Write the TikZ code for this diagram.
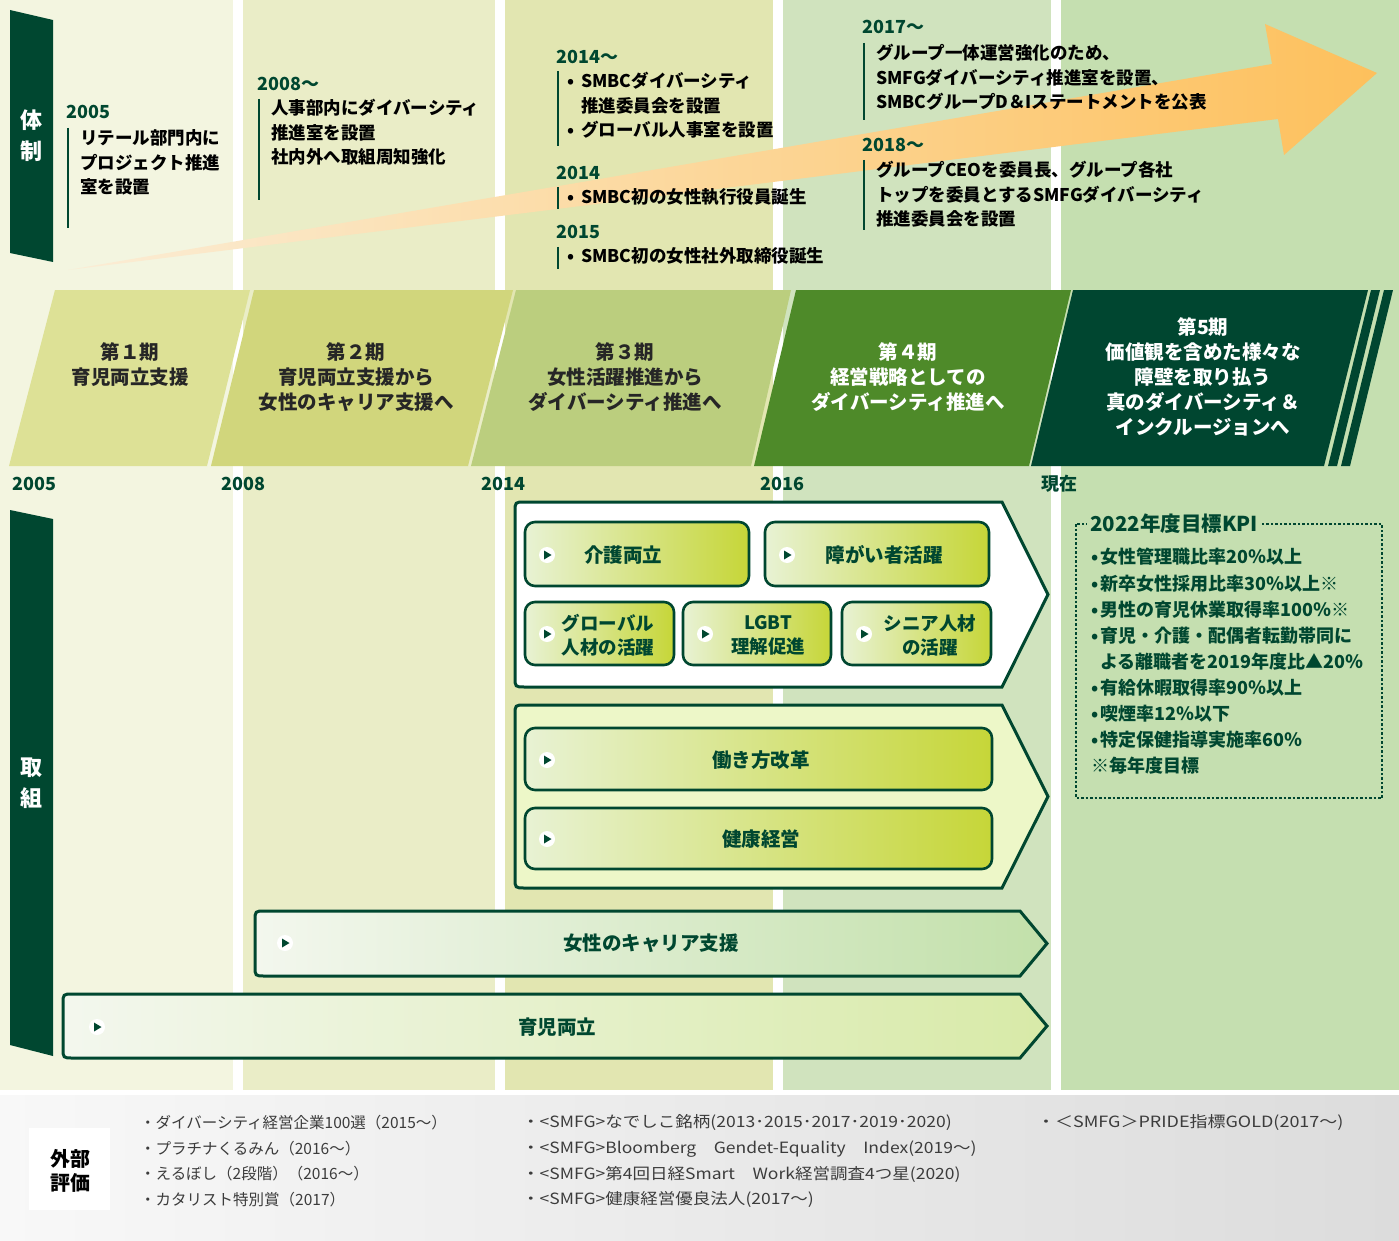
\documentclass[tikz,border=0pt]{standalone}
\usepackage{fontspec}
\setmainfont{Noto Sans CJK JP}
\definecolor{dkg}{RGB}{0,71,48}
\definecolor{colA}{RGB}{243,245,224}
\definecolor{colB}{RGB}{234,237,199}
\definecolor{colC}{RGB}{226,230,177}
\definecolor{colD}{RGB}{208,227,190}
\definecolor{colE}{RGB}{197,223,176}
\definecolor{phA}{RGB}{221,225,150}
\definecolor{phB}{RGB}{209,214,124}
\definecolor{phC}{RGB}{187,206,126}
\definecolor{phD}{RGB}{78,138,41}
\definecolor{phE}{RGB}{0,70,48}
\definecolor{arL}{RGB}{251,237,214}
\definecolor{arR}{RGB}{253,192,92}
\definecolor{ibL}{RGB}{232,242,212}
\definecolor{ibR}{RGB}{198,214,56}
\definecolor{brL}{RGB}{243,247,238}
\definecolor{brR}{RGB}{194,224,170}
\definecolor{brRb}{RGB}{216,234,168}
\definecolor{bxB}{RGB}{237,247,200}
\definecolor{phtxt}{RGB}{38,38,38}
\definecolor{extxt}{RGB}{60,60,60}
\definecolor{gyL}{RGB}{248,248,248}
\definecolor{gyR}{RGB}{220,220,220}
\newcommand\fsz[2]{\fontsize{#1}{#2}\selectfont}
\newcommand\bu{\makebox[14pt][l]{•}}
\newcommand\kb{\makebox[9pt][l]{•}}
\newcommand\wide[1]{\scalebox{1.13}[1]{\begin{tabular}{@{}l@{}}#1\end{tabular}}}
\begin{document}
\begin{tikzpicture}[x=1pt,y=-1pt,
  yr/.style={font=\bfseries\fsz{18}{20}, text=dkg, inner sep=0, anchor=west},
  desc/.style={font=\bfseries\fsz{17.5}{24.5}, text=black, inner sep=0, anchor=west, align=left},
  phase/.style={font=\bfseries\fsz{19.5}{25}, text=phtxt, inner sep=0, align=center},
  side/.style={font=\bfseries\fsz{22}{31}, text=white, inner sep=0, align=center},
  lbl/.style={font=\bfseries\fsz{19.5}{24}, text=dkg, inner sep=0, align=center},
  lbls/.style={font=\bfseries\fsz{18.5}{24}, text=dkg, inner sep=0, align=center},
  kpi/.style={font=\bfseries\fsz{18}{26.1}, text=dkg, inner sep=0, anchor=west, align=left},
  ext/.style={font=\fsz{15.5}{25.7}, text=extxt, inner sep=0, anchor=west, align=left},
  vline/.style={draw=dkg, line width=2pt},
  bigbox/.style={draw=dkg, line width=3pt},
  ibox/.style={draw=dkg, line width=2.6pt, rounded corners=10pt, left color=ibL, right color=ibR},
  play/.pic={\fill[white] (0,0) circle (8pt); \fill[dkg] (-3,-4.5) -- (4.5,0) -- (-3,4.5) -- cycle;}
]
\useasboundingbox (0,0) rectangle (1399,1241);
\fill[white] (0,0) rectangle (1399,1241);
% columns
\fill[colA] (0,0) rectangle (233,1090);
\fill[colB] (243,0) rectangle (495,1090);
\fill[colC] (505,0) rectangle (773,1090);
\fill[colD] (783,0) rectangle (1051,1090);
\fill[colE] (1061,0) rectangle (1399,1090);
% bottom band
\shade[left color=gyL, right color=gyR] (0,1095) rectangle (1399,1241);
% side labels
\fill[dkg] (10,10) -- (53,20) -- (53,262) -- (10,253) -- cycle;
\node[side] (taisei) at (31,136) {体\\制};
\fill[dkg] (10,510) -- (53,519) -- (53,1056) -- (10,1045) -- cycle;
\node[side] (torikumi) at (31,783) {取\\組};
% arrow
\shade[left color=arL, right color=arR] (68,270) -- (1272,64) -- (1265,24) -- (1377,73) -- (1284,155) -- (1278,119) -- cycle;
% taisei texts
\node[yr] (y2005) at (66,112) {2005};
\draw[vline] (68,128) -- (68,228);
\node[desc] (d2005) at (80,162.5) {リテール部門内に\\プロジェクト推進\\室を設置};
\node[yr] (y2008) at (257,84) {2008～};
\draw[vline] (259,99) -- (259,200);
\node[desc] (d2008) at (271,132.5) {人事部内にダイバーシティ\\推進室を設置\\社内外へ取組周知強化};
\node[yr] (y2014a) at (556,57) {2014～};
\draw[vline] (558,71) -- (558,146);
\node[desc] (d2014a) at (567,105.5) {\bu SMBCダイバーシティ\\\hspace*{14pt}推進委員会を設置\\\bu グローバル人事室を設置};
\node[yr] (y2014b) at (556,173) {2014};
\draw[vline] (558,187) -- (558,209);
\node[desc] (d2014b) at (567,197) {\bu SMBC初の女性執行役員誕生};
\node[yr] (y2015) at (556,232) {2015};
\draw[vline] (558,247) -- (558,269);
\node[desc] (d2015) at (567,256) {\bu SMBC初の女性社外取締役誕生};
\node[yr] (y2017) at (862,27) {2017～};
\draw[vline] (864,43) -- (864,120);
\node[desc] (d2017) at (876,77.5) {グループ一体運営強化のため、\\SMFGダイバーシティ推進室を設置、\\SMBCグループD＆Iステートメントを公表};
\node[yr] (y2018) at (862,145) {2018～};
\draw[vline] (864,160) -- (864,230);
\node[desc] (d2018) at (876,194.5) {グループCEOを委員長、グループ各社\\トップを委員とするSMFGダイバーシティ\\推進委員会を設置};
% phases
\fill[phA] (55,290) -- (250,290) -- (207,466) -- (9,466) -- cycle;
\fill[phB] (254,290) -- (513,290) -- (468,466) -- (211,466) -- cycle;
\fill[phC] (516,290) -- (791,290) -- (751,466) -- (471,466) -- cycle;
\fill[phD] (796,290) -- (1071,290) -- (1029,466) -- (754,466) -- cycle;
\fill[phE] (1073,290) -- (1368,290) -- (1324,466) -- (1031,466) -- cycle;
\fill[phE] (1371,290) -- (1380,290) -- (1337,466) -- (1328,466) -- cycle;
\fill[phE] (1384,290) -- (1393,290) -- (1350,466) -- (1341,466) -- cycle;
\node[phase] (ph1) at (130,365) {第１期\\育児両立支援};
\node[phase] (ph2) at (356,377) {第２期\\育児両立支援から\\女性のキャリア支援へ};
\node[phase] (ph3) at (625,377) {第３期\\女性活躍推進から\\ダイバーシティ推進へ};
\node[phase, text=white] (ph4) at (908,377) {第４期\\経営戦略としての\\ダイバーシティ推進へ};
\node[phase, text=white] (ph5) at (1203,377) {第5期\\価値観を含めた様々な\\障壁を取り払う\\真のダイバーシティ＆\\インクルージョンへ};
% year axis
\node[yr] (a2005) at (12,484) {2005};
\node[yr] (a2008) at (221,484) {2008};
\node[yr] (a2014) at (481,484) {2014};
\node[yr] (a2016) at (760,484) {2016};
\node[yr] (anow) at (1041,484) {現在};
% big box 1
\draw[bigbox, fill=white] (1002,502) -- (1048,594.5) -- (1002,687) -- (525,687) .. controls (515,687) .. (515,677) -- (515,512) .. controls (515,502) .. (525,502) -- cycle;
\draw[ibox] (525,522) rectangle (749,586);
\draw[ibox] (765,522) rectangle (989,586);
\draw[ibox] (525,602) rectangle (674,665);
\draw[ibox] (683,602) rectangle (831,665);
\draw[ibox] (842,602) rectangle (991,665);
\pic at (547,555) {play};
\pic at (787,555) {play};
\pic at (547,634) {play};
\pic at (705,634) {play};
\pic at (864,634) {play};
\node[lbl] (kaigo) at (623,555) {介護両立};
\node[lbl] (shogai) at (884,555) {障がい者活躍};
\node[lbls] (global) at (608,635) {グローバル\\人材の活躍};
\node[lbls] (lgbt) at (768,635) {LGBT\\理解促進};
\node[lbls] (senior) at (930,635) {シニア人材\\の活躍};
% big box 2
\draw[bigbox, fill=bxB] (1002,705) -- (1048,796.5) -- (1002,888) -- (525,888) .. controls (515,888) .. (515,878) -- (515,715) .. controls (515,705) .. (525,705) -- cycle;
\draw[ibox] (525,728) rectangle (992,790);
\draw[ibox] (525,808) rectangle (992,869);
\pic at (547,760) {play};
\pic at (547,839) {play};
\node[lbl] (hataraki) at (761,760) {働き方改革};
\node[lbl] (kenko) at (761,839) {健康経営};
% bars
\draw[bigbox, left color=brL, right color=brR] (1020,911) -- (1047,943.5) -- (1020,976) -- (265,976) .. controls (255,976) .. (255,966) -- (255,921) .. controls (255,911) .. (265,911) -- cycle;
\pic at (285,943) {play};
\node[lbl] (career) at (651,943) {女性のキャリア支援};
\draw[bigbox, left color=brL, right color=brRb] (1020,994) -- (1047,1026) -- (1020,1058) -- (73,1058) .. controls (63,1058) .. (63,1048) -- (63,1004) .. controls (63,994) .. (73,994) -- cycle;
\pic at (97,1027) {play};
\node[lbl] (ikuji) at (557,1027) {育児両立};
% KPI box
\draw[dkg, line width=2.5pt, dash pattern=on 2.5pt off 2pt] (1076,524) rectangle (1382,798);
\node[font=\bfseries\fsz{20.5}{24}, text=dkg, fill=colE, inner xsep=3pt, inner ysep=2pt, anchor=west] (kpititle) at (1087,524) {2022年度目標KPI};
\node[kpi] (kpilist) at (1091,661.5) {\kb 女性管理職比率20％以上\\\kb 新卒女性採用比率30％以上※\\\kb 男性の育児休業取得率100％※\\\kb 育児・介護・配偶者転勤帯同に\\\hspace*{9pt}よる離職者を2019年度比▲20％\\\kb 有給休暇取得率90％以上\\\kb 喫煙率12％以下\\\kb 特定保健指導実施率60％\\※毎年度目標};
% external evaluation
\fill[white] (29,1128) rectangle (110,1210);
\node[font=\bfseries\fsz{20}{24}, text=black, align=center, inner sep=0] (gaibu) at (70,1171) {外部\\評価};
\node[ext] (ex1) at (140,1161) {・ダイバーシティ経営企業100選（2015～）\\・プラチナくるみん（2016～）\\・えるぼし（2段階）（2016～）\\・カタリスト特別賞（2017）};
\node[ext] (ex2) at (522,1161) {\wide{・<SMFG>なでしこ銘柄(2013･2015･2017･2019･2020)\\・<SMFG>Bloomberg　Gendet-Equality　Index(2019～)\\・<SMFG>第4回日経Smart　Work経営調査4つ星(2020)\\・<SMFG>健康経営優良法人(2017～)}};
\node[ext] (ex3) at (1037,1122) {\scalebox{1.16}[1]{・＜SMFG＞PRIDE指標GOLD(2017～)}};
\end{tikzpicture}
\end{document}
